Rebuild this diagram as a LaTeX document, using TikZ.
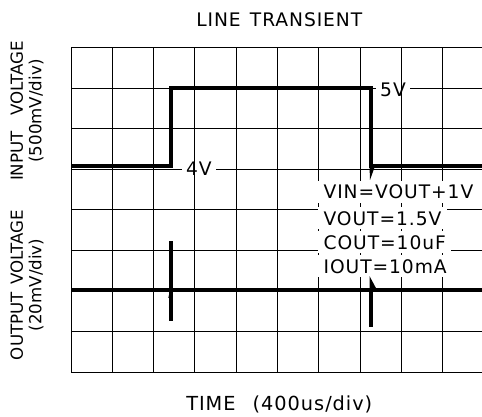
\documentclass[tikz,border=0pt]{standalone}
\usepackage{fontspec}
\setmainfont{DejaVu Sans}[LetterSpace=5]

\begin{document}
\begin{tikzpicture}[x=0.75pt, y=-0.75pt,
  gridline/.style={line width=0.75pt},
  trace/.style={line width=3pt},
  lbl/.style={font=\fontsize{14}{16}\selectfont, inner sep=0pt},
  ylab/.style={font=\fontsize{12.5}{13.9}\selectfont\addfontfeatures{LetterSpace=0}, rotate=90, align=center, inner sep=0pt},
  cut/.style={lbl, fill=white, inner xsep=3.5pt, inner ysep=1pt},
  cond/.style={lbl, fill=white, anchor=base west, inner xsep=4pt, inner ysep=3pt}]

  \useasboundingbox (0,0) rectangle (482,417);
  \clip (0,0) rectangle (482,417);

  % Titles
  \node[lbl, anchor=base west] (title) at (196,27) {\makebox[124.5pt][l]{LINE\hfill TRANSIENT}};
  \node[lbl, anchor=base west, font=\fontsize{14.5}{16}\selectfont] (xlab) at (186,410) {\makebox[139.5pt][l]{TIME\hfill(400us/div)}};
  \node[ylab] (ylabIn) at (27,111) {\makebox[105pt][l]{INPUT\hfill VOLTAGE}\\(500mV/div)};
  \node[ylab] (ylabOut) at (27,285) {\makebox[112.5pt][l]{OUTPUT\hfill VOLTAGE}\\(20mV/div)};

  % Horizontal grid lines
  \draw[gridline] (71,48) -- (490,48);
  \draw[gridline] (71,88.5) -- (490,88.5);
  \draw[gridline] (71,129) -- (490,129);
  \draw[gridline] (71,169.5) -- (490,169.5);
  \draw[gridline] (71,210) -- (490,210);
  \draw[gridline] (71,250.5) -- (490,250.5);
  \draw[gridline] (71,291) -- (490,291);
  \draw[gridline] (71,331.5) -- (490,331.5);
  \draw[gridline] (71,372) -- (490,372);

  % Level labels
  \node[cut, anchor=base] (lab5V) at (393,97) {5V};
  \node[cut, anchor=base] (lab4V) at (199,176) {4V};

  % Vertical grid lines
  \draw[gridline] (71,48) -- (71,372);
  \draw[gridline] (112.3,48) -- (112.3,372);
  \draw[gridline] (153.6,48) -- (153.6,372);
  \draw[gridline] (194.9,48) -- (194.9,372);
  \draw[gridline] (236.2,48) -- (236.2,372);
  \draw[gridline] (277.5,48) -- (277.5,372);
  \draw[gridline] (318.8,48) -- (318.8,372);
  \draw[gridline] (360.1,48) -- (360.1,372);
  \draw[gridline] (401.4,48) -- (401.4,372);
  \draw[gridline] (442.7,48) -- (442.7,372);

  % Test conditions
  \node[cond] (cond1) at (318,199) {VIN=VOUT+1V};
  \node[cond] (cond2) at (318,225) {VOUT=1.5V};
  \node[cond] (cond3) at (318,249) {COUT=10uF};
  \node[cond] (cond4) at (318,273) {IOUT=10mA};

  % Input step
  \draw[trace] (71,166) -- (170.5,166) -- (170.5,88.5) -- (371,88.5) -- (371,166) -- (490,166);
  \fill (369.5,166) -- (375,166) -- (370,180) -- cycle;

  % Output response
  \draw[trace] (71,290) -- (490,290);
  \draw[trace] (170.5,241) -- (170.5,321);
  \draw[line width=1pt] (172.5,290) .. controls (170,293) .. (169,298);
  \draw[trace] (371,290) -- (371,327);
  \fill (369.5,276) -- (377,290) -- (369.5,290) -- cycle;

\end{tikzpicture}
\end{document}
